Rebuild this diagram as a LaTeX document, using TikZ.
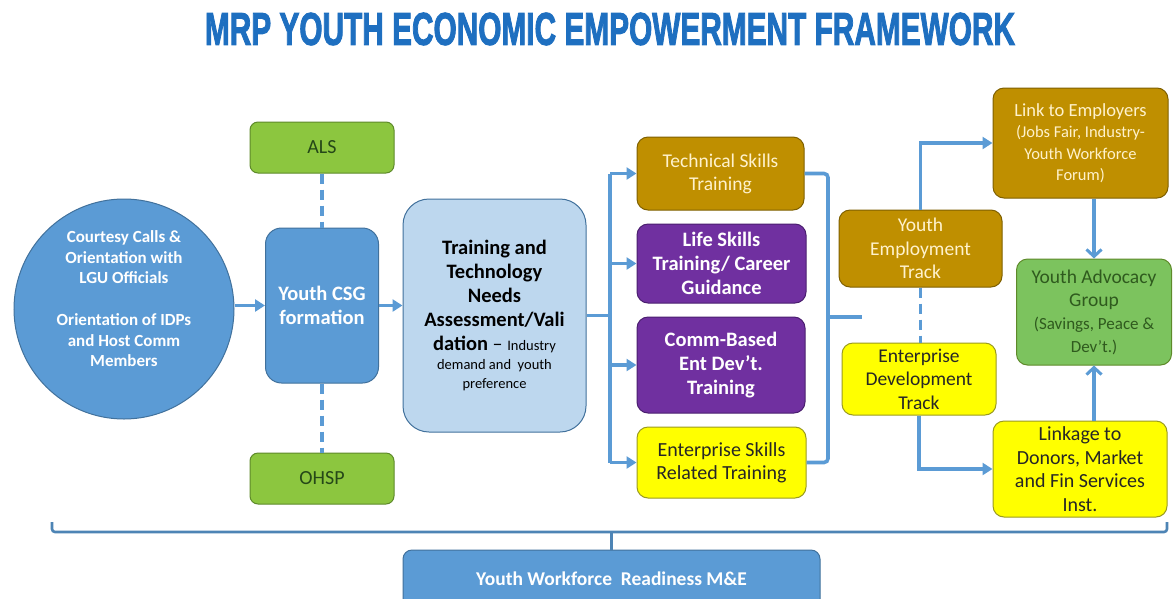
\documentclass[tikz,border=0pt]{standalone}
\usepackage{fontspec}
\setmainfont{Carlito}
\newfontfamily\titlefont[BoldFeatures={FakeBold=2.5}]{Liberation Sans}
\usepackage{graphicx}
\usetikzlibrary{arrows.meta}
\definecolor{lblue}{HTML}{5B9BD5}
\definecolor{dblue}{HTML}{41719C}
\definecolor{pblue}{HTML}{BDD7EE}
\definecolor{tblue}{HTML}{1E6FC0}
\definecolor{gold}{HTML}{BF8F00}
\definecolor{dgold}{HTML}{7F6000}
\definecolor{cream}{HTML}{FFF2CC}
\definecolor{purp}{HTML}{7030A0}
\definecolor{dpurp}{HTML}{4B1F6F}
\definecolor{yel}{HTML}{FFFF00}
\definecolor{dyel}{HTML}{9A9A20}
\definecolor{grn}{HTML}{8CC63F}
\definecolor{dgrn}{HTML}{5E8A2A}
\definecolor{agrn}{HTML}{7CC35E}
\definecolor{tgrn}{HTML}{2F5A1E}
\definecolor{txtgray}{HTML}{262626}
\tikzset{
  box/.style={rectangle, rounded corners=11pt, line width=1pt, align=center, inner sep=2pt},
  bluebox/.style={box, fill=lblue, draw=dblue, text=white, font=\bfseries},
  goldbox/.style={box, fill=gold, draw=dgold, text=cream},
  purpbox/.style={box, fill=purp, draw=dpurp, text=white, font=\bfseries},
  yelbox/.style={box, fill=yel, draw=dyel, text=txtgray},
  grnbox/.style={box, fill=grn, draw=dgrn, text=tgrn!80!black},
  conn/.style={draw=lblue, line width=3.6pt},
  arr/.style={conn, -{Triangle[length=10pt,width=12pt]}},
  barb/.style={conn, -{Straight Barb[length=7pt,width=15pt,line width=3pt]}},
  dashline/.style={conn, dash pattern=on 10pt off 6pt},
  bracel/.style={draw=lblue!85!black, line width=2.6pt, rounded corners=3pt}
}
\begin{document}
\begin{tikzpicture}[x=1pt,y=-1pt]
\useasboundingbox (0,0) rectangle (1173,598);
\fill[white] (0,0) rectangle (1173,598);

\node[inner sep=0pt, text=tblue] (title) at (610,29)
  {\resizebox{810pt}{32pt}{\titlefont\bfseries MRP YOUTH ECONOMIC EMPOWERMENT FRAMEWORK}};

% left part
\node[circle, fill=lblue, draw=dblue, line width=1pt, minimum size=220pt, inner sep=0pt,
      align=center, text=white, font=\bfseries\fontsize{17}{20.7}\selectfont] (circ) at (124,309)
  {Courtesy Calls \&\\Orientation with\\LGU Officials\\ \\Orientation of IDPs\\and Host Comm\\Members\\ };
\node[bluebox, rounded corners=16pt, minimum width=113pt, minimum height=155pt,
      font=\bfseries\fontsize{20.5}{24}\selectfont] (csg) at (322,305.5) {Youth CSG\\formation};
\node[grnbox, rounded corners=8pt, minimum width=144pt, minimum height=51pt,
      font=\fontsize{20}{22}\selectfont] (als) at (322,147.5) {ALS};
\node[grnbox, rounded corners=8pt, minimum width=144pt, minimum height=51pt,
      font=\fontsize{20}{22}\selectfont] (ohsp) at (322,478.5) {OHSP};

\node[box, rounded corners=26pt, fill=pblue, draw=dblue, text=black,
      minimum width=183pt, minimum height=233pt,
      font=\fontsize{20.5}{24}\selectfont] (tna) at (494.5,315.5)
  {\bfseries Training and\\\bfseries Technology\\\bfseries Needs\\\bfseries Assessment/Vali\\
   \bfseries dation {\mdseries\fontsize{20}{24}\selectfont --} {\mdseries\fontsize{14.5}{17}\selectfont Industry}\\[-4.5pt]
   {\fontsize{14.5}{17}\selectfont demand and\ \ youth}\\[-5pt]
   {\fontsize{14.5}{17}\selectfont preference}};

% training boxes
\node[goldbox, minimum width=167pt, minimum height=73pt,
      font=\fontsize{19.5}{23}\selectfont] (tech) at (720.5,173.5) {Technical Skills\\Training};
\node[purpbox, minimum width=169pt, minimum height=79pt,
      font=\bfseries\fontsize{20.5}{24}\selectfont] (life) at (721.5,263.5) {Life Skills\\Training/ Career\\Guidance};
\node[purpbox, minimum width=168pt, minimum height=96pt,
      font=\bfseries\fontsize{20.5}{24}\selectfont] (comm) at (721,365) {Comm-Based\\Ent Dev’t.\\Training};
\node[yelbox, minimum width=169pt, minimum height=71pt,
      font=\fontsize{20}{23}\selectfont] (ent) at (721.5,462.5) {Enterprise Skills\\Related Training};

% tracks
\node[goldbox, minimum width=163pt, minimum height=77pt,
      font=\fontsize{19.5}{23.5}\selectfont] (yet) at (920.5,248.5) {Youth\\Employment\\Track};
\node[yelbox, minimum width=154pt, minimum height=72pt,
      font=\fontsize{19.5}{23.5}\selectfont] (edt) at (919,379) {Enterprise\\Development\\Track};

% right column
\node[goldbox, minimum width=175pt, minimum height=110pt,
      font=\fontsize{16.5}{21.5}\selectfont] (lte) at (1080.5,143)
  {{\fontsize{18.5}{21.5}\selectfont Link to Employers}\\(Jobs Fair, Industry-\\Youth Workforce\\Forum)};
\node[box, fill=agrn, draw=dgrn, text=tgrn, minimum width=155pt, minimum height=106pt,
      font=\fontsize{17}{23}\selectfont] (adv) at (1094,312)
  {{\fontsize{19.5}{23}\selectfont Youth Advocacy}\\{\fontsize{19.5}{23}\selectfont Group}\\(Savings, Peace \&\\Dev’t.)};
\node[yelbox, minimum width=174pt, minimum height=96pt,
      font=\fontsize{20}{23.5}\selectfont] (link) at (1080,469)
  {Linkage to\\Donors, Market\\and Fin Services\\Inst.};

\node[bluebox, rounded corners=9pt, minimum width=417pt, minimum height=70pt,
      font=\bfseries\fontsize{19.5}{22}\selectfont, text depth=0pt] (me) at (611.5,585)
  {\raisebox{12pt}{Youth Workforce\ \ Readiness M\&E}};

% coordinates
\coordinate (lbr) at (610,315.5);
\coordinate (rbr) at (828,317);
\coordinate (rtip) at (862,317);
\coordinate (bl) at (52,522);
\coordinate (bm) at (611.5,532);
\coordinate (brr) at (1167,522);

% connectors
\draw[arr] (circ.east |- csg.west) -- (csg.west);
\draw[arr] (csg.east) -- (csg.east -| tna.west);
\draw[dashline] (als.south) -- (csg.north);
\draw[dashline] (csg.south) -- (ohsp.north);

\draw[conn] (tna.east |- lbr) -- (lbr);
\draw[conn] (lbr |- tech.west) -- (lbr |- ent.west);
\draw[arr] (lbr |- tech.west) -- (tech.west);
\draw[arr] (lbr |- life.west) -- (life.west);
\draw[arr] (lbr |- comm.west) -- (comm.west);
\draw[arr] (lbr |- ent.west) -- (ent.west);

\draw[conn, rounded corners=4pt] (tech.east) -| (rbr) |- (ent.east);
\draw[conn] (rbr) -- (rtip);

\draw[dashline] (yet.south) -- (yet.south |- edt.north);
\draw[arr] (yet.north) |- (lte.west);
\draw[arr] (edt.south) |- (link.west);
\draw[barb] (adv.north |- lte.south) -- (adv.north);
\draw[barb] (adv.south |- link.north) -- (adv.south);

\draw[bracel] (bl) |- (bm) -| (brr);
\draw[bracel] (bm) -- (me.north);
\end{tikzpicture}
\end{document}
